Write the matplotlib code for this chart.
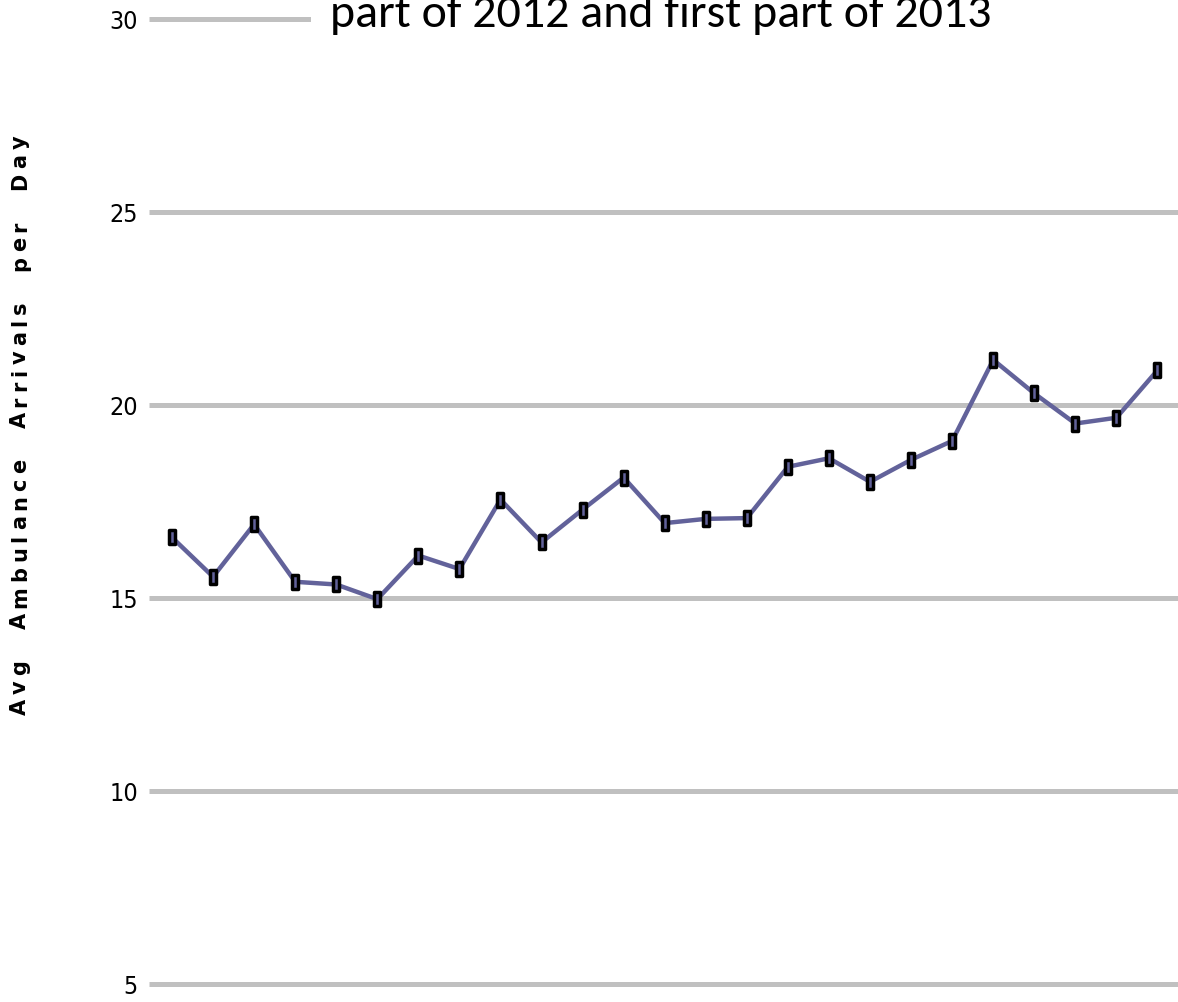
import matplotlib
matplotlib.use("Agg")
import matplotlib.pyplot as plt
from matplotlib.path import Path
from matplotlib.patches import Rectangle
from matplotlib import font_manager
from matplotlib.font_manager import FontProperties
from matplotlib.textpath import TextToPath

# Average ambulance arrivals per day, consecutive periods
periods = list(range(25))
arrivals = [16.57, 15.55, 16.91, 15.42, 15.35, 14.97, 16.10, 15.75, 17.55,
            16.44, 17.29, 18.12, 16.94, 17.05, 17.07, 18.40, 18.62, 18.01,
            18.58, 19.07, 21.17, 20.30, 19.52, 19.67, 20.90]
y_ticks = [5, 10, 15, 20, 25, 30]
y_tick_labels = ["5", "10", "15", "20", "25", "30"]
title_text = "part of 2012 and first part of 2013"
y_label = "Avg Ambulance Arrivals per Day"

installed = {f.name for f in font_manager.fontManager.ttflist}


def condensed_font():
    """Pick a narrow sans face for the tick labels if one is installed."""
    best = None
    for f in font_manager.fontManager.ttflist:
        narrow = ("Narrow" in f.name or "Condensed" in f.name
                  or str(f.stretch) in ("condensed", "semi-condensed",
                                         "extra-condensed", "ultra-condensed"))
        if not narrow or f.weight not in (400, "normal", "regular") or f.style != "normal":
            continue
        rank = 0 if "Liberation" in f.name else (1 if "DejaVu" in f.name else 2)
        if best is None or rank < best[0]:
            best = (rank, f)
    return best[1] if best else None


fig = plt.figure(figsize=(11.78, 10.03), dpi=100)
W, H = 1178, 1003
left_px, right_px = 149, 1178
ax = fig.add_axes([left_px / W, 0, (right_px - left_px) / W, 1])

px_per_unit = 38.6
ax.set_ylim(5 - (1003 - 985) / px_per_unit, 30 + 20 / px_per_unit)
ax.set_xlim(-0.56, 24.5)

for yv in y_ticks:
    ax.axhline(yv, color="#c0c0c0", lw=3.6, zorder=1, solid_capstyle="butt")

# tall narrow rectangular marker
rect = Path([(-0.5, -1), (0.5, -1), (0.5, 1), (-0.5, 1), (-0.5, -1)],
            [Path.MOVETO, Path.LINETO, Path.LINETO, Path.LINETO, Path.CLOSEPOLY])
ax.plot(periods, arrivals, color="#62629a", lw=3.2, zorder=3,
        marker=rect, markersize=10, markerfacecolor="#62629a",
        markeredgecolor="black", markeredgewidth=2.5)

ax.set_yticks(y_ticks)
ax.set_yticklabels(y_tick_labels)
cf = condensed_font()
if cf is not None:
    tick_fp = FontProperties(fname=cf.fname, size=18)
else:
    tick_fp = FontProperties(family="DejaVu Sans", size=15)
for lbl in ax.get_yticklabels():
    lbl.set_fontproperties(tick_fp)
ax.tick_params(axis="y", length=0, pad=8)
ax.set_xticks([])
for s in ax.spines.values():
    s.set_visible(False)

# Vertical axis title, bold, with open letter spacing (reads bottom to top)
lab_fp = FontProperties(family="DejaVu Sans", weight="bold", size=15)
t2p = TextToPath()
letter_gap = 5.0   # px between letters
word_gap = 19.0    # extra px at each space
baseline_x = 26.0
y_px = 715.0       # lower end of the label
for ch in y_label:
    w_pt, _, _ = t2p.get_text_width_height_descent(ch, lab_fp, ismath=False)
    adv = w_pt * 100 / 72
    if ch != " ":
        fig.text(baseline_x / W, 1 - y_px / H, ch, rotation=90, ha="left",
                 va="baseline", fontproperties=lab_fp, rotation_mode="anchor")
        y_px -= adv + letter_gap
    else:
        y_px -= adv + word_gap

# Chart title, its white box sitting over the top gridline
title_family = "Carlito" if "Carlito" in installed else "Lato"
title_size = 34.5 if title_family == "Carlito" else 30
fig.add_artist(Rectangle((311 / W, 1 - 38 / H), (W - 311) / W, 38 / H,
                         transform=fig.transFigure, facecolor="white",
                         edgecolor="none", zorder=5))
fig.text(661 / W, 1 - 27 / H, title_text, ha="center", va="baseline",
         fontsize=title_size, fontfamily=title_family, color="black", zorder=6)

fig.savefig("out.png", dpi=100)
